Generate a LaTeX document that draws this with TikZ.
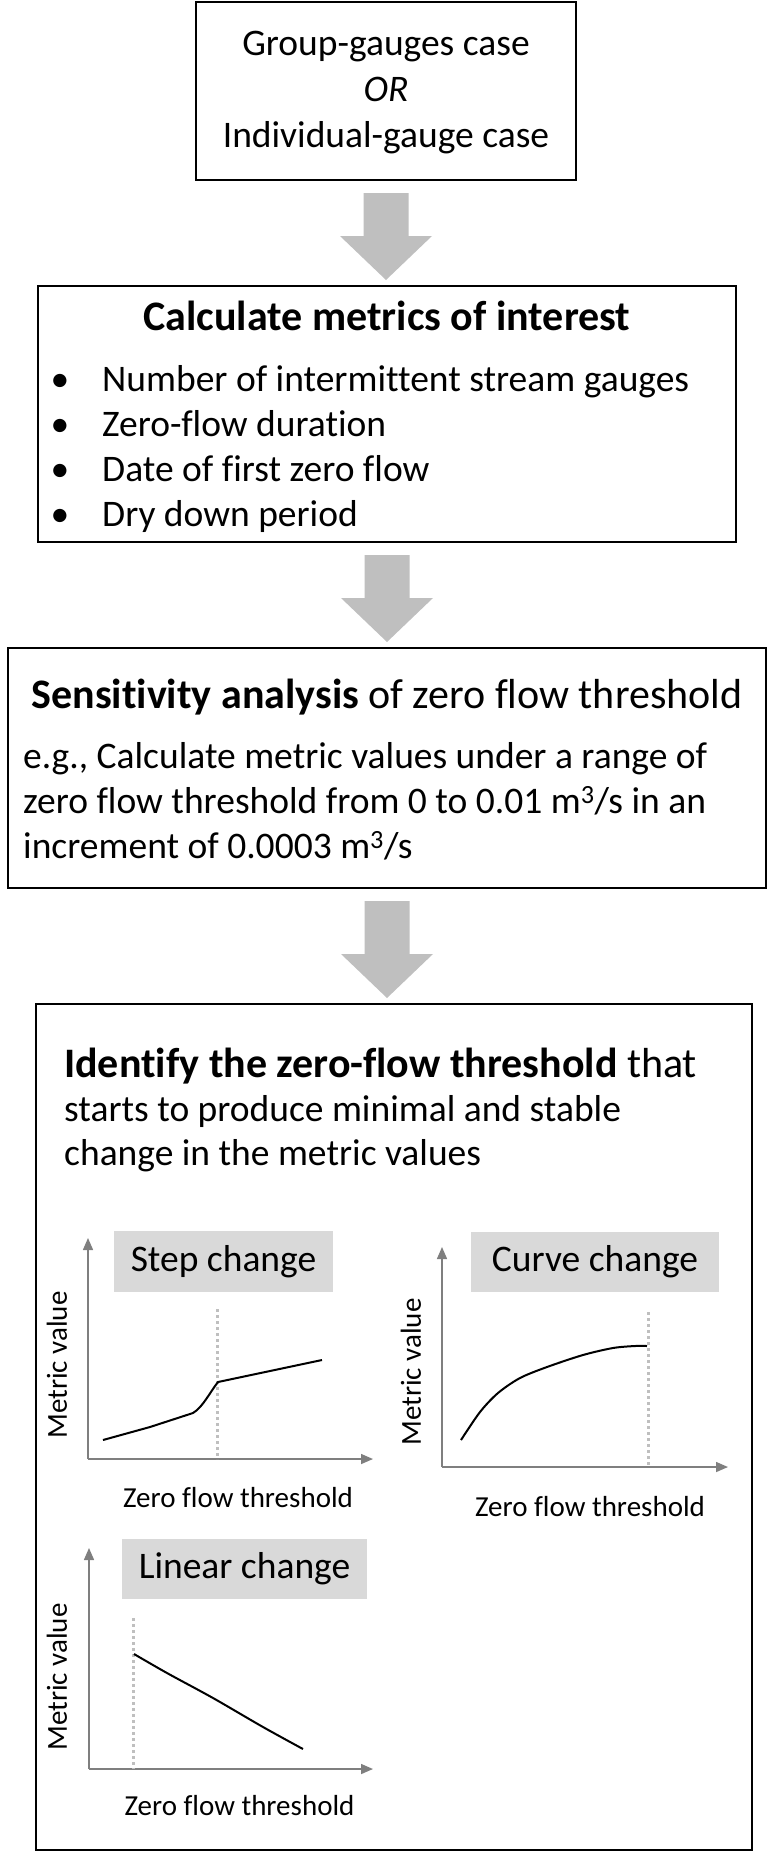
\documentclass[tikz,border=0pt]{standalone}
\usepackage{fontspec}
\setmainfont{Carlito}[Ligatures=CommonOff]
\usepackage{xcolor}
\usetikzlibrary{arrows.meta,calc}
\definecolor{blockgray}{HTML}{BFBFBF}
\definecolor{labelgray}{HTML}{D9D9D9}
\definecolor{axisgray}{HTML}{7F7F7F}
\definecolor{cutgray}{HTML}{BFBFBF}
\newcommand{\blockarrow}[2]{\fill[blockgray] ($(#1.south)+(-22.5,12)$) -- ($(#1.south)+(22.5,12)$)
    -- ($(#1.south |- #2.north)+(22.5,-49)$) -- ($(#1.south |- #2.north)+(46,-49)$)
    -- ($(#1.south |- #2.north)+(0,-5)$)
    -- ($(#1.south |- #2.north)+(-46,-49)$) -- ($(#1.south |- #2.north)+(-22.5,-49)$) -- cycle}
\tikzset{
  box/.style={draw, line width=2, inner sep=0},
  txt/.style={font=\fontsize{37.5}{45}\selectfont, inner sep=0},
  head/.style={font=\fontsize{42}{50}\selectfont, inner sep=0},
  tag/.style={fill=labelgray, inner sep=0, font=\fontsize{37.5}{45}\selectfont},
  axis/.style={draw=axisgray, line width=1.5, -{Triangle[length=12,width=10]}},
  cut/.style={draw=cutgray, line width=3, dash pattern=on 3 off 3},
  trend/.style={line width=2, line join=round},
  ylab/.style={rotate=90, inner sep=0, font=\fontsize{29}{35}\selectfont},
  xlab/.style={anchor=base, inner sep=0, font=\fontsize{29}{35}\selectfont}
}
\begin{document}
\begin{tikzpicture}[x=1pt,y=-1pt]
  \useasboundingbox (0,0) rectangle (768,1853);

  \node[box, minimum width=380, minimum height=178] (cases) at (386,91) {};
  \node[box, minimum width=698, minimum height=256] (metrics) at (387,414) {};
  \node[box, minimum width=758, minimum height=240] (sens) at (387,768) {};
  \node[box, minimum width=716, minimum height=846] (ident) at (394,1427) {};

  \blockarrow{cases}{metrics};
  \blockarrow{metrics}{sens};
  \blockarrow{sens}{ident};

  \node[txt, anchor=base] (c1) at (386,55) {Group-gauges case};
  \node[txt, anchor=base] (c2) at (386,101) {\itshape OR};
  \node[txt, anchor=base] (c3) at (386,147) {Individual-gauge case};

  \node[head, anchor=base] (mtitle) at (387,330) {\bfseries Calculate metrics of interest};
  \foreach \t [count=\i] in {Number of intermittent stream gauges, Zero-flow duration,
      Date of first zero flow, Dry down period} {
    \node[txt, anchor=base] (dot\i) at (60,346+45*\i) {\textbullet};
    \node[txt, anchor=base west] (m\i) at (102,346+45*\i) {\t};
  }

  \node[head, anchor=base] (stitle) at (387,708) {\textbf{Sensitivity analysis} of zero flow threshold};
  \node[txt, anchor=base west] (s1) at (23,768) {e.g., Calculate metric values under a range of};
  \node[txt, anchor=base west] (s2) at (23,813) {zero flow threshold from 0 to 0.01 m\textsuperscript{3}/s in an};
  \node[txt, anchor=base west] (s3) at (23,858) {increment of 0.0003 m\textsuperscript{3}/s};

  \node[head, anchor=base west] (i1) at (64,1077) {\textbf{Identify the zero-flow threshold} that};
  \node[txt, anchor=base west] (i2) at (64,1121) {starts to produce minimal and stable};
  \node[txt, anchor=base west] (i3) at (64,1165) {change in the metric values};

  % step change
  \coordinate (o1) at (88,1459);
  \draw[axis] (o1) -- ++(0,-221);
  \draw[axis] (o1) -- ++(285,0);
  \node[tag, minimum width=219, minimum height=61] (step) at (223.5,1261.5) {Step change};
  \draw[cut] (217,1309) -- (217,1459);
  \draw[trend] (103,1440) -- (150,1427) -- (193,1413) .. controls (203,1407) and (210,1392) .. (218,1382) -- (322,1360);
  \node[ylab] (mv1) at (57,1365) {Metric value};
  \node[xlab] (zf1) at (238,1507) {Zero flow threshold};

  % curve change
  \coordinate (o2) at (442,1467);
  \draw[axis] (o2) -- ++(0,-220);
  \draw[axis] (o2) -- ++(286,0);
  \node[tag, minimum width=248, minimum height=60] (curve) at (595,1262) {Curve change};
  \draw[cut] (648,1312) -- (648,1467);
  \draw[trend] plot[smooth] coordinates {(461,1440) (480,1412) (498,1393) (520,1378) (547,1367)
      (583,1355) (613,1348) (635,1346) (647,1346)};
  \node[ylab] (mv2) at (411,1372) {Metric value};
  \node[xlab] (zf2) at (590,1516) {Zero flow threshold};

  % linear change
  \coordinate (o3) at (89,1769);
  \draw[axis] (o3) -- ++(0,-221);
  \draw[axis] (o3) -- ++(284,0);
  \node[tag, minimum width=245, minimum height=60] (linear) at (244.5,1569) {Linear change};
  \draw[cut] (133,1618) -- (133,1769);
  \draw[trend] plot[smooth] coordinates {(134,1654) (167,1673) (213,1698) (263,1727) (303,1749)};
  \node[ylab] (mv3) at (57,1677) {Metric value};
  \node[xlab] (zf3) at (239.5,1815) {Zero flow threshold};
\end{tikzpicture}
\end{document}
